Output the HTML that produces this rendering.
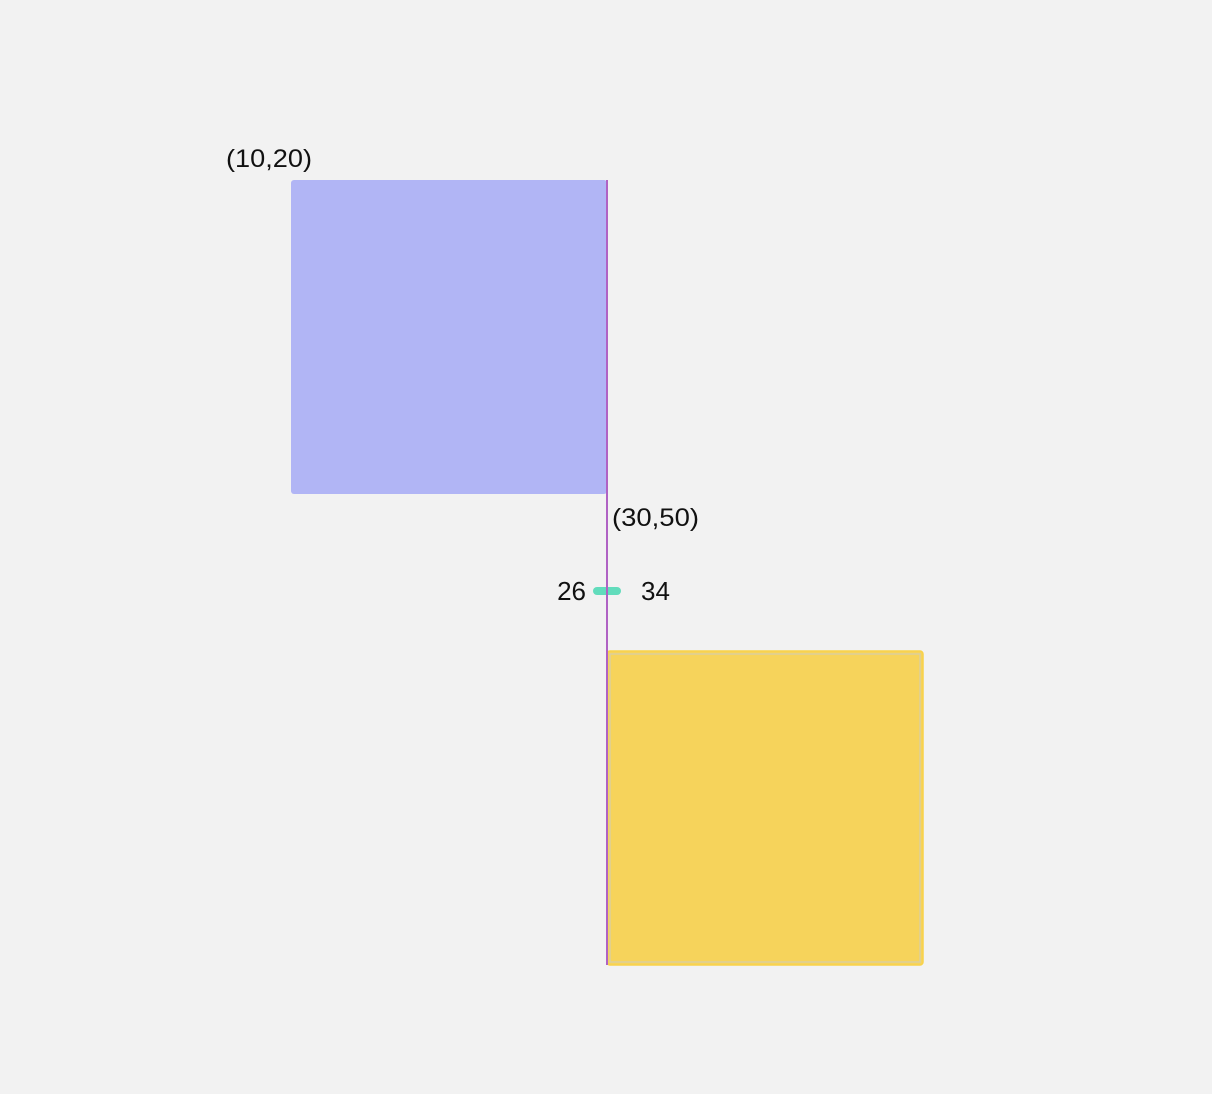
<!DOCTYPE html>
<html><head><meta charset="utf-8"><style>
html,body{margin:0;padding:0;background:#f2f2f2;}
svg{display:block;font-family:"Liberation Sans",sans-serif;}
</style></head><body>
<svg id="chart" width="1212" height="1094" viewBox="0 0 1212 1094">
<rect x="0" y="0" width="1212" height="1094" fill="#f2f2f2"/>
</svg>
<script>
const rectNames = ["rect-a","rect-b"];
const rectX1 = [10,30];
const rectY1 = [20,50];
const rectX2 = [30,50];
const rectY2 = [40,70];
const rectLabels = ["(10,20)","(30,50)"];
const rangeLow = [26];
const rangeHigh = [34];
const lineX = [30];

const NS="http://www.w3.org/2000/svg";
const svg=document.getElementById('chart');
const sx=v=>133+v*15.8;
const sy=v=>-134+v*15.7;
const rx=v=>607+(v-30)*2.5;
function mk(t,a){const e=document.createElementNS(NS,t);for(const k in a)e.setAttribute(k,a[k]);svg.appendChild(e);return e;}
const fills=["#b1b5f5","#f6d35b"];
for(let i=0;i<rectX1.length;i++){
  const r=mk('rect',{x:sx(rectX1[i]),y:sy(rectY1[i]),width:sx(rectX2[i])-sx(rectX1[i]),height:sy(rectY2[i])-sy(rectY1[i]),rx:3,fill:fills[i],stroke:i===1?"#f8d24a":"none","stroke-width":1.5});
  
  
  if(i===1){const b=mk('rect',{x:sx(rectX1[i])+3,y:sy(rectY1[i])+3,width:sx(rectX2[i])-sx(rectX1[i])-6,height:sy(rectY2[i])-sy(rectY1[i])-6,fill:"none",stroke:"#dccf9c","stroke-width":1.5});
    
    }
}
const t0=mk('text',{x:226,y:sy(rectY1[0])-13,"font-size":25,fill:"#111",textLength:86,lengthAdjust:"spacingAndGlyphs"});
t0.textContent=rectLabels[0];


const t1=mk('text',{x:sx(rectX1[1])+5,y:sy(rectY2[0])+32,"font-size":25,fill:"#111",textLength:87,lengthAdjust:"spacingAndGlyphs"});
t1.textContent=rectLabels[1];


for(let i=0;i<rangeLow.length;i++){
  const y=591;
  const l=mk('line',{x1:rx(rangeLow[i]),x2:rx(rangeHigh[i]),y1:y,y2:y,stroke:"#62dcbc","stroke-width":8,"stroke-linecap":"round"});
  
  
  const a=mk('text',{x:rx(rangeLow[i])-11,y:y+9,"text-anchor":"end","font-size":26,fill:"#111"});
  a.textContent=String(rangeLow[i]);
  
  
  const b=mk('text',{x:rx(rangeHigh[i])+24,y:y+9,"font-size":26,fill:"#111"});
  b.textContent=String(rangeHigh[i]);
  
  
}
for(let i=0;i<lineX.length;i++){
  const v=mk('line',{x1:sx(lineX[i]),x2:sx(lineX[i]),y1:sy(rectY1[0]),y2:sy(rectY2[1]),stroke:"#b062c4","stroke-width":2});
  
  
}
</script>
</body></html>
